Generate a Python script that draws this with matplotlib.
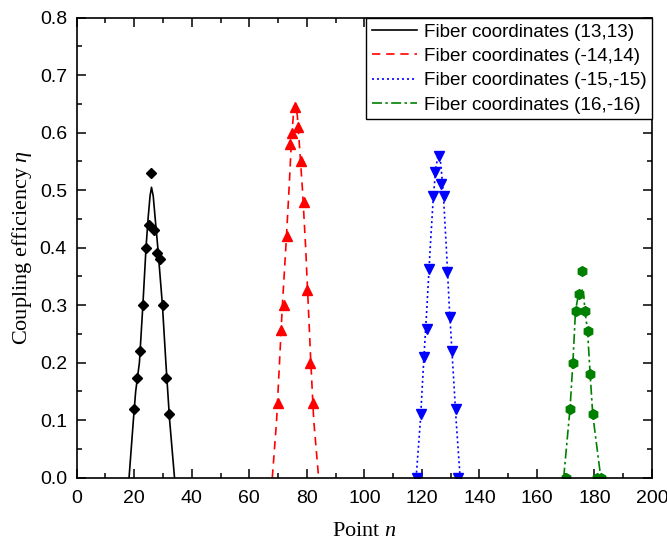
import matplotlib.pyplot as plt

# measured coupling efficiency at each scan point
x_13_13 = [20, 21, 22, 23, 24, 25, 26, 27, 28, 29, 30, 31, 32]
eta_13_13 = [0.12, 0.173, 0.22, 0.30, 0.40, 0.44, 0.53, 0.43, 0.39, 0.38, 0.30, 0.173, 0.11]

x_m14_14 = [70, 71, 72, 73, 74, 75, 76, 77, 78, 79, 80, 81, 82]
eta_m14_14 = [0.13, 0.256, 0.30, 0.42, 0.58, 0.60, 0.645, 0.61, 0.55, 0.48, 0.326, 0.20, 0.13]

x_m15_m15 = [118.3, 119.8, 120.7, 121.7, 122.6, 123.7, 124.7, 125.9, 126.8, 127.6,
             128.8, 129.7, 130.6, 131.7, 132.7]
eta_m15_m15 = [0.0, 0.11, 0.209, 0.258, 0.363, 0.489, 0.531, 0.559, 0.511, 0.489,
               0.358, 0.28, 0.22, 0.12, 0.0]

x_16_m16 = [170.0, 171.5, 172.6, 173.5, 174.6, 175.6, 176.7, 177.7, 178.6, 179.4, 181.0, 182.3]
eta_16_m16 = [0.0, 0.12, 0.20, 0.29, 0.32, 0.36, 0.29, 0.255, 0.18, 0.11, 0.0, 0.0]

# fitted curves
fit_x_13_13 = [18.2, 19.7, 20.5, 21.8, 23.0, 24.1, 24.8, 25.5, 26.0, 26.6, 27.3, 28.2, 29.8, 31.0, 32.3, 34.0]
fit_y_13_13 = [0.0, 0.10, 0.15, 0.20, 0.30, 0.40, 0.45, 0.49, 0.505, 0.49, 0.45, 0.40, 0.30, 0.20, 0.10, 0.0]

fit_x_m14_14 = [68.0, 69.5, 70.5, 71.5, 72.7, 73.8, 74.6, 75.3, 76.0, 76.7, 77.4, 78.5, 79.6, 80.5, 81.4, 82.4, 84.1]
fit_y_m14_14 = [0.0, 0.10, 0.20, 0.30, 0.40, 0.50, 0.58, 0.63, 0.65, 0.63, 0.58, 0.50, 0.40, 0.30, 0.20, 0.10, 0.0]

fit_x_m15_m15 = [118.0, 119.5, 120.6, 121.8, 122.9, 124.0, 124.9, 125.8, 126.6, 127.5, 128.5, 129.5, 130.7, 131.9, 133.3]
fit_y_m15_m15 = [0.0, 0.10, 0.20, 0.30, 0.40, 0.49, 0.54, 0.565, 0.545, 0.49, 0.40, 0.30, 0.20, 0.10, 0.0]

fit_x_16_m16 = [169.3, 171.5, 172.5, 173.4, 174.3, 175.6, 176.3, 176.7, 177.6, 178.5, 179.4, 182.2]
fit_y_16_m16 = [0.0, 0.12, 0.20, 0.29, 0.315, 0.329, 0.315, 0.29, 0.255, 0.18, 0.11, 0.0]

labels = ["Fiber coordinates (13,13)", "Fiber coordinates (-14,14)",
          "Fiber coordinates (-15,-15)", "Fiber coordinates (16,-16)"]

plt.rcParams["font.family"] = ["Liberation Sans", "DejaVu Sans"]
plt.rcParams["mathtext.fontset"] = "custom"
plt.rcParams["mathtext.it"] = "Liberation Serif:italic"
plt.rcParams["mathtext.rm"] = "Liberation Serif"

fig = plt.figure(figsize=(6.67, 5.42), dpi=100)
ax = fig.add_axes([0.115, 0.1187, 0.8625, 0.8487])

series = [
    (x_13_13, eta_13_13, fit_x_13_13, fit_y_13_13, "black", "-", "D", 5.2),
    (x_m14_14, eta_m14_14, fit_x_m14_14, fit_y_m14_14, "red", (0, (5, 3.5)), "^", 7.5),
    (x_m15_m15, eta_m15_m15, fit_x_m15_m15, fit_y_m15_m15, "blue", (0, (1.2, 1.8)), "v", 7.5),
    (x_16_m16, eta_16_m16, fit_x_16_m16, fit_y_16_m16, "green", (0, (6, 2, 1.5, 2)), "h", 7),
]

for (xs, ys, fx, fy, color, ls, marker, ms), label in zip(series, labels):
    ax.plot(fx, fy, color=color, linestyle=ls, linewidth=1.2, label=label)
    ax.plot(xs, ys, linestyle="none", marker=marker, markersize=ms, color=color)

ax.set_xlim(0, 200)
ax.set_ylim(0, 0.8)
ax.set_xticks(range(0, 201, 20))
ax.set_xticks(range(10, 200, 20), minor=True)
ax.set_yticks([i / 10 for i in range(9)])
ax.set_yticks([0.05 + i / 10 for i in range(8)], minor=True)
ax.yaxis.set_major_formatter(plt.FormatStrFormatter("%.1f"))

ax.tick_params(which="both", direction="in", top=True, right=True, labelsize=14, width=1.1)
ax.tick_params(which="major", length=6.5)
ax.tick_params(which="minor", length=3.3)
ax.tick_params(axis="x", pad=9)
ax.tick_params(axis="y", pad=7)
for sp in ax.spines.values():
    sp.set_linewidth(1.2)

ax.set_xlabel(r"Point $n$", family="Liberation Serif", fontsize=16, labelpad=11)
ax.set_ylabel(r"Coupling efficiency $\eta$", family="Liberation Serif", fontsize=16, labelpad=4)

leg = ax.legend(loc="upper right", fontsize=13.6, frameon=True, fancybox=False,
                edgecolor="black", framealpha=1, borderaxespad=0,
                handlelength=2.4, handletextpad=0.35, borderpad=0.3, labelspacing=0.38)
leg.get_frame().set_linewidth(1.0)

fig.savefig("out.png", dpi=100)
